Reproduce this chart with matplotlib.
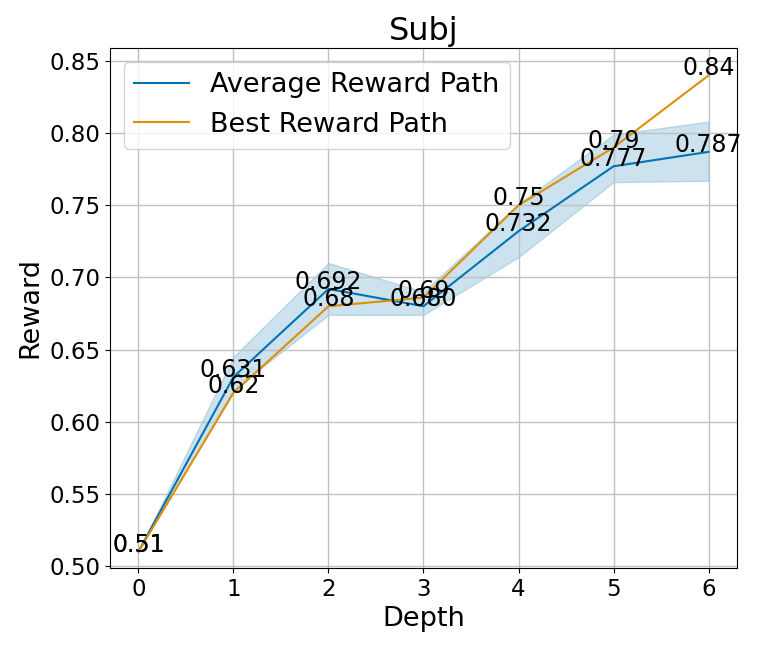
import matplotlib
matplotlib.use('Agg')
import matplotlib.pyplot as plt
import numpy as np

# Data
depth = [0, 1, 2, 3, 4, 5, 6]
avg_reward = [0.51, 0.631, 0.692, 0.680, 0.732, 0.777, 0.787]
best_reward = [0.51, 0.62, 0.68, 0.686, 0.75, 0.79, 0.84]
avg_lower = [0.51, 0.622, 0.674, 0.674, 0.714, 0.766, 0.767]
avg_upper = [0.51, 0.645, 0.710, 0.690, 0.751, 0.799, 0.808]
avg_labels = ['0.51', '0.631', '0.692', '0.680', '0.732', '0.777', '0.787']
best_labels = ['0.51', '0.62', '0.68', '0.69', '0.75', '0.79', '0.84']

blue = '#0173B2'
orange = '#DE8F05'

fig, ax = plt.subplots(figsize=(7.61, 6.53), dpi=100)
fig.subplots_adjust(left=0.1445, right=0.9685, bottom=0.1302, top=0.9265)

ax.plot(depth, avg_reward, color=blue, label='Average Reward Path')
ax.fill_between(depth, avg_lower, avg_upper, color=blue, alpha=0.2)
ax.plot(depth, best_reward, color=orange, label='Best Reward Path')

# Value labels
for x, y, s in zip(depth, avg_reward, avg_labels):
    ax.text(x, y, s, ha='center', fontsize=17)
for x, y, s in zip(depth, best_reward, best_labels):
    ax.text(x, y, s, ha='center', fontsize=17)

ax.set_ylim(0.4986, 0.859)
ax.set_title('Subj', fontsize=23)
ax.set_xlabel('Depth', fontsize=19.5)
ax.set_ylabel('Reward', fontsize=19.5)
ax.tick_params(labelsize=16.5)
ax.grid(True, color='#c0c0c0', linewidth=1)
ax.legend(loc='upper left', fontsize=19.5)

plt.savefig('out.png', dpi=100)
